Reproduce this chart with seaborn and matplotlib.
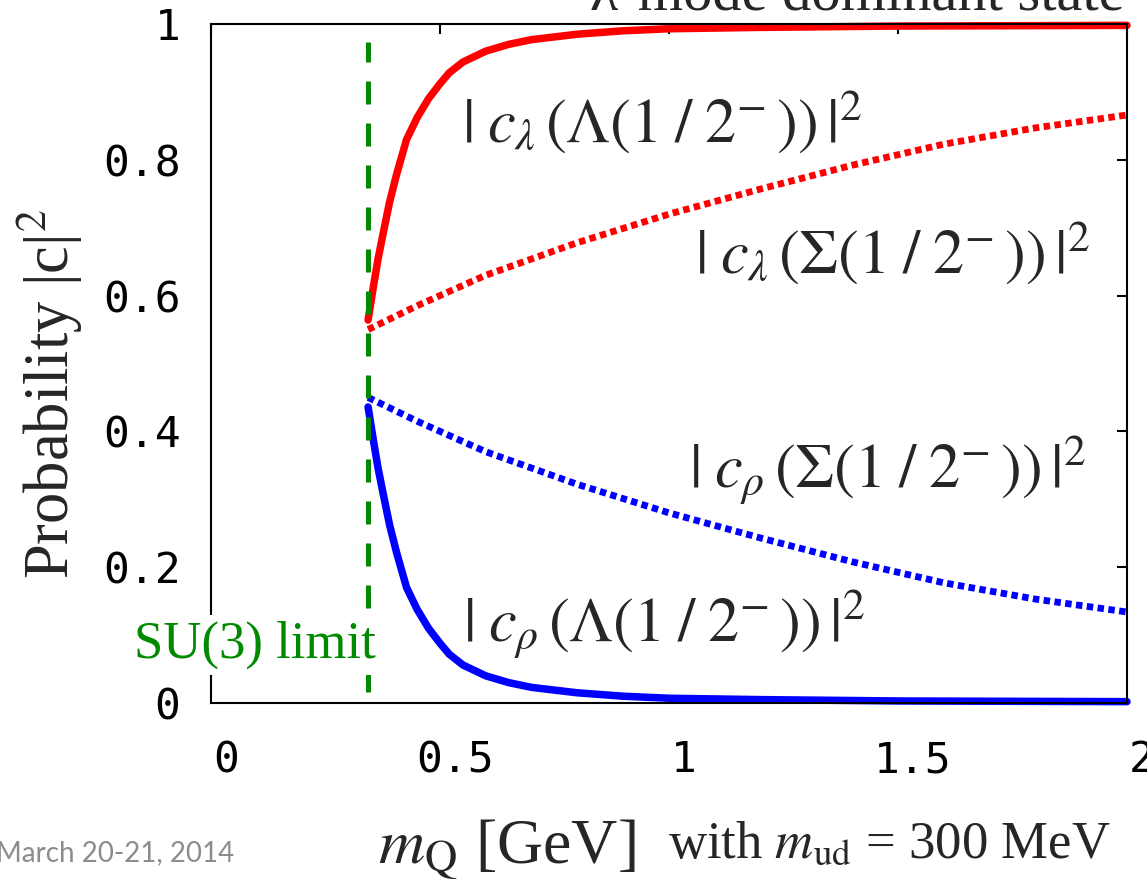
import matplotlib
matplotlib.use("Agg")
import matplotlib.pyplot as plt
import matplotlib.transforms as mtransforms
import seaborn as sns

# values, m_Q in GeV
x_solid = [0.343, 0.355, 0.365, 0.376, 0.39, 0.405, 0.427, 0.45, 0.475, 0.50, 0.52,
           0.55, 0.60, 0.65, 0.70, 0.80, 0.90, 1.00, 1.20, 1.50, 2.00]
lam_Lambda = [0.564, 0.615, 0.655, 0.692, 0.738, 0.778, 0.830, 0.862, 0.890, 0.912, 0.928,
              0.944, 0.960, 0.970, 0.977, 0.985, 0.990, 0.993, 0.995, 0.997, 0.998]
rho_Lambda = [0.436, 0.385, 0.345, 0.308, 0.262, 0.222, 0.170, 0.138, 0.110, 0.088, 0.072,
              0.056, 0.040, 0.030, 0.023, 0.015, 0.010, 0.007, 0.005, 0.003, 0.002]

x_dotted = [0.343, 0.45, 0.6, 0.8, 1.0, 1.2, 1.4, 1.6, 1.8, 2.0]
lam_Sigma = [0.550, 0.585, 0.630, 0.678, 0.720, 0.757, 0.792, 0.823, 0.847, 0.866]
rho_Sigma = [0.450, 0.415, 0.370, 0.322, 0.280, 0.243, 0.208, 0.177, 0.153, 0.134]

su3_limit = 0.343

xticks = [0, 0.5, 1, 1.5, 2]
xtick_labels = ["0", "0.5", "1", "1.5", "2"]
yticks = [0, 0.2, 0.4, 0.6, 0.8, 1]
ytick_labels = ["0", "0.2", "0.4", "0.6", "0.8", "1"]

sns.set_style("white")
plt.rcParams["font.family"] = ["Liberation Serif", "DejaVu Serif"]
plt.rcParams["mathtext.fontset"] = "stix"

W, H = 1147, 881
fig = plt.figure(figsize=(W / 100, H / 100), dpi=100)
ax = fig.add_axes([211 / W, 178 / H, 916 / W, 679 / H])

red, blue, green = "#ff0000", "#0000ff", "#008a00"
dots = (0, (0.95, 0.65))

sns.lineplot(x=x_dotted, y=lam_Sigma, ax=ax, color=red, lw=4.9, linestyle=dots,
             dash_capstyle="butt", clip_on=False)
sns.lineplot(x=x_dotted, y=rho_Sigma, ax=ax, color=blue, lw=4.9, linestyle=dots,
             dash_capstyle="butt", clip_on=False)
sns.lineplot(x=x_solid, y=lam_Lambda, ax=ax, color=red, lw=5.4, clip_on=False)
sns.lineplot(x=x_solid, y=rho_Lambda, ax=ax, color=blue, lw=5.4, clip_on=False)
ax.axvline(su3_limit, ymin=0.016, ymax=0.974, color=green, lw=3.6,
           linestyle=(0, (4.6, 3.8)), zorder=5)

ax.set_xlim(0, 2)
ax.set_ylim(0, 1)
ax.set_xticks(xticks)
ax.set_xticklabels(xtick_labels)
ax.set_yticks(yticks)
ax.set_yticklabels(ytick_labels)
ax.tick_params(direction="in", length=7, width=1.5, top=True, right=True,
               labelsize=31, colors="black")
ax.tick_params(axis="x", pad=26)
ax.tick_params(axis="y", pad=22)
for lab in ax.get_xticklabels() + ax.get_yticklabels():
    lab.set_fontfamily("DejaVu Sans Mono")
shift = mtransforms.ScaledTranslation(0.15, 0, fig.dpi_scale_trans)
for lab in ax.get_xticklabels():
    lab.set_transform(lab.get_transform() + shift)
for s in ax.spines.values():
    s.set_color("black")
    s.set_linewidth(1.5)
ax.set_xlabel("")
ax.set_ylabel("")

# curve labels
fs = 45
fig.text(462 / W, 1 - 142 / H, r"$|\;c_{\lambda}\,(\Lambda(1\;/\;2^{-}\,))\,|^{2}$",
         fontsize=fs, ha="left", va="baseline")
fig.text(695 / W, 1 - 273 / H, r"$|\;c_{\lambda}\,(\Sigma(1\;/\;2^{-}\,))\,|^{2}$",
         fontsize=fs, ha="left", va="baseline")
fig.text(689 / W, 1 - 488 / H, r"$|\;c_{\rho}\,(\Sigma(1\;/\;2^{-}\,))\,|^{2}$",
         fontsize=fs, ha="left", va="baseline")
fig.text(463 / W, 1 - 642 / H, r"$|\;c_{\rho}\,(\Lambda(1\;/\;2^{-}\,))\,|^{2}$",
         fontsize=fs, ha="left", va="baseline")

fig.text(376 / W, 1 - 658 / H, "SU(3) limit", fontsize=38, color=green, ha="right",
         va="baseline", bbox=dict(facecolor="white", edgecolor="none", pad=4), zorder=10)

fig.text(50 / W, 1 - 394 / H, r"Probability |c|$^{2}$", fontsize=45, rotation=90,
         ha="center", va="center")
fig.text(378 / W, 1 - 864 / H, r"$m_{\mathrm{Q}}$ [GeV]", fontsize=46, ha="left", va="baseline")
fig.text(668 / W, 1 - 858 / H, r"with $m_{\mathrm{ud}}$ = 300 MeV", fontsize=38, ha="left", va="baseline")
fig.text(-4 / W, 1 - 861 / H, "March 20-21, 2014", fontsize=20, color="#8c8c8c",
         family=["Lato", "DejaVu Sans"], ha="left", va="baseline")
fig.text(590 / W, 1 - 9 / H, "λ-mode dominant state", fontsize=42,
         ha="left", va="baseline")

fig.savefig("out.png", dpi=100, facecolor="white")
